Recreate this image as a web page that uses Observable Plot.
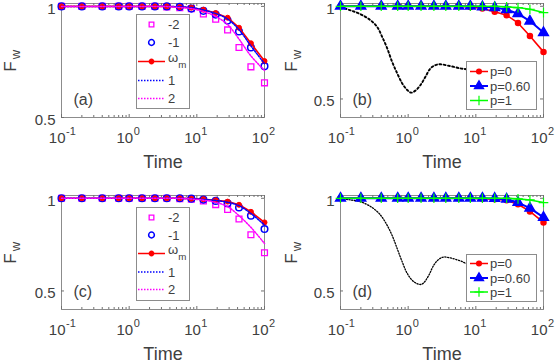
<!DOCTYPE html>
<html><head><meta charset="utf-8">
<script src="https://cdn.jsdelivr.net/npm/d3@7"></script>
<script src="https://cdn.jsdelivr.net/npm/@observablehq/plot@0.6"></script>
<style>
body{margin:0;background:#fff;}
#fig{position:relative;width:556px;height:364px;overflow:hidden;background:#fff;}
</style></head><body><div id="fig"></div>
<script>
const FONT = '"Liberation Sans", Arial, Helvetica, sans-serif';

// ---------- shared axes data ----------
const times = [0.1,0.2,0.4,0.7,1,1.55,2.4,3.6,5.6,8.3,12.5,19,28.5,42,63,100];
const xTicks = [0.1,1,10,100];
const xTickBase = ["10","10","10","10"];
const xTickExp = ["-1","0","1","2"];
const xMinorTicks = [0.2,0.3,0.4,0.5,0.6,0.7,0.8,0.9,2,3,4,5,6,7,8,9,20,30,40,50,60,70,80,90];
const yTicks = [0.5,1];
const yTickLabels = ["0.5","1"];
const panelLabels = ["(a)","(b)","(c)","(d)"];
const xLabel = "Time";
const yLabelMain = "F";
const yLabelSub = "w";

// ---------- legend names ----------
const namesAC = ["-2","-1","ω_m","1","2"];
const namesBD = ["p=0","p=0.60","p=1"];

// ---------- panel (a) ----------
const aMinus2 = [1,1,1,1,1,1,1,0.998,0.994,0.99,0.966,0.942,0.894,0.815,0.728,0.656];
const aMinus1 = [1,1,1,1,1,1,1,1,0.998,0.99,0.98,0.963,0.936,0.887,0.815,0.731];
const aOmega  = [1,1,1,1,1,1,1,1,0.997,0.994,0.985,0.970,0.949,0.904,0.834,0.754];
const aPlus1  = [1,1,1,1,1,1,1,1,0.998,0.995,0.984,0.968,0.943,0.895,0.822,0.742];
const aPlus2  = [1,1,1,1,1,1,1,0.999,0.995,0.99,0.977,0.955,0.918,0.853,0.777,0.712];

// ---------- panel (c) ----------
const cMinus2 = [1,1,1,1,1,1,1,1,0.998,0.995,0.986,0.966,0.94,0.888,0.803,0.706];
const cMinus1 = [1,1,1,1,1,1,1,1,1,0.998,0.993,0.986,0.973,0.95,0.906,0.834];
const cOmega  = [1,1,1,1,1,1,1,1,1,0.998,0.995,0.989,0.982,0.965,0.927,0.87];
const cPlus1  = [1,1,1,1,1,1,1,1,1,0.998,0.994,0.988,0.979,0.96,0.918,0.856];
const cPlus2  = [1,1,1,1,1,1,1,1,0.999,0.996,0.99,0.978,0.955,0.906,0.843,0.756];

// ---------- panel (b) ----------
const bP0   = [1,1,1,1,1,1,1,1,1,0.996,0.988,0.97,0.952,0.91,0.84,0.754];
const bP060 = [1,1,1,1,1,1,1,1,1,1,0.997,0.993,0.982,0.96,0.92,0.858];
const bP1   = [1,1,1,1,1,1,1,1,1,1,1,1,0.997,0.993,0.984,0.966];
const bBlackT = [0.1,0.141,0.198,0.277,0.348,0.413,0.49,0.58,0.689,0.817,0.97,1.11,1.28,1.52,1.8,2.14,2.54,3.01,4.22,5.93,7.45,10];
const bBlackF = [0.995,0.978,0.957,0.925,0.889,0.835,0.773,0.70,0.638,0.584,0.548,0.534,0.545,0.575,0.62,0.665,0.683,0.687,0.677,0.665,0.66,0.655];

// ---------- panel (d) ----------
const dP0   = [1,1,1,1,1,1,1,1,1,1,0.998,0.995,0.989,0.968,0.929,0.87];
const dP060 = [1,1,1,1,1,1,1,1,1,1,1,0.999,0.995,0.977,0.947,0.897];
const dP1   = [1,1,1,1,1,1,1,1,1,1,1,1,1,0.997,0.991,0.977];
const dBlackT = [0.1,0.141,0.198,0.277,0.368,0.462,0.58,0.689,0.817,0.97,1.21,1.52,1.7,2.02,2.39,2.84,3.36,4.22,5.93,7.45,10];
const dBlackF = [0.998,0.991,0.981,0.956,0.92,0.87,0.799,0.728,0.657,0.594,0.55,0.535,0.544,0.585,0.639,0.671,0.683,0.678,0.662,0.647,0.64];

// ---------- helpers ----------
const rows = (vals, ts = times) => ts.map((t, i) => ({t, v: vals[i]}));
const C = {red:"#ff0000", blue:"#0000ff", mag:"#ff00ff", green:"#00ff00", black:"#000000"};
const AXIS = "#8c8c8c", TICK = "#707070", TXT = "#404040";
const tickRows = xTicks.map((v, i) => ({v, base: xTickBase[i], exp: xTickExp[i]}));
const yTickRows = yTicks.map((v, i) => ({v, label: yTickLabels[i]}));

function panel(o) {
  const W = 278, H = 182;
  const ph = H - o.mt - o.mb, pw = W - o.ml - o.mr;
  const svg = Plot.plot({
    width: W, height: H,
    marginTop: o.mt, marginBottom: o.mb, marginLeft: o.ml, marginRight: o.mr,
    x: {type: "log", domain: [0.1, 100], axis: null},
    y: {domain: o.yDomain, axis: null},
    marks: [
      Plot.frame({stroke: AXIS, strokeWidth: 1}),
      Plot.tickX(xTicks, {x: d => d, insetTop: ph - 3, stroke: TICK}),
      Plot.tickX(xTicks, {x: d => d, insetBottom: ph - 3, stroke: TICK}),
      Plot.tickX(xMinorTicks, {x: d => d, insetTop: ph - 2, stroke: TICK}),
      Plot.tickX(xMinorTicks, {x: d => d, insetBottom: ph - 2, stroke: TICK}),
      Plot.tickY(yTicks, {y: d => d, insetRight: pw - 3, stroke: TICK}),
      Plot.tickY(yTicks, {y: d => d, insetLeft: pw - 3, stroke: TICK}),
      Plot.text(tickRows, {x: "v", text: "base", frameAnchor: "bottom", textAnchor: "end", lineAnchor: "middle", dx: 4, dy: 21, fontSize: 15, fill: TXT, fontFamily: FONT}),
      Plot.text(tickRows, {x: "v", text: "exp", frameAnchor: "bottom", textAnchor: "start", lineAnchor: "middle", dx: 4.5, dy: 14, fontSize: 11, fill: TXT, fontFamily: FONT}),
      Plot.text(yTickRows, {y: "v", text: "label", frameAnchor: "left", textAnchor: "end", lineAnchor: "middle", dx: -6, dy: 2.5, fontSize: 15, fill: TXT, fontFamily: FONT}),
      Plot.text([xLabel], {frameAnchor: "bottom", lineAnchor: "middle", dy: 45, fontSize: 18, fill: TXT, fontFamily: FONT}),
      Plot.text([yLabelMain], {frameAnchor: "left", rotate: -90, textAnchor: "middle", lineAnchor: "middle", dx: o.yLabDx, dy: 6, fontSize: 17, fill: TXT, fontFamily: FONT}),
      Plot.text([yLabelSub], {frameAnchor: "left", rotate: -90, textAnchor: "middle", lineAnchor: "middle", dx: o.yLabDx + 5, dy: -6, fontSize: 13, fill: TXT, fontFamily: FONT}),
      Plot.text([o.label], {frameAnchor: "top-left", textAnchor: "start", lineAnchor: "middle", dx: 12, dy: 96, fontSize: 16, fill: TXT, fontFamily: FONT}),
      ...o.marks
    ]
  });
  svg.style.position = "absolute";
  svg.style.left = o.left + "px";
  svg.style.top = o.top + "px";
  svg.style.background = "transparent";
  svg.style.fontFamily = FONT;
  svg.style.overflow = "visible";
  return svg;
}

function legend(svg, o) {
  const g = d3.select(svg).append("g").attr("transform", `translate(${o.x},${o.y})`);
  g.append("rect").attr("x", 0.5).attr("y", 0.5).attr("width", o.w).attr("height", o.h)
    .attr("fill", "#fff").attr("stroke", AXIS);
  o.names.forEach((name, i) => {
    const st = o.styles[i], yy = o.offsets[i] + 0.5;
    if (st.line) {
      g.append("line").attr("x1", o.lx1).attr("x2", o.lx2).attr("y1", yy).attr("y2", yy)
        .attr("stroke", st.color).attr("stroke-width", st.lw || 1.5)
        .attr("stroke-dasharray", st.line === "dotted" ? "1.5,1.5" : null);
    }
    if (st.symbol) {
      const sym = {circle: d3.symbolCircle, square: d3.symbolSquare, triangle: d3.symbolTriangle, plus: d3.symbolPlus}[st.symbol];
      g.append("path").attr("d", d3.symbol(sym, st.size)())
        .attr("transform", `translate(${o.mx},${yy})`)
        .attr("fill", st.fill ? st.color : "none").attr("stroke", st.color).attr("stroke-width", st.sw || 1.3);
    }
    const t = g.append("text").attr("x", o.tx).attr("y", yy).attr("dy", "0.35em")
      .attr("text-anchor", "start")
      .attr("font-size", o.fs).attr("fill", TXT).attr("font-family", FONT);
    const parts = name.split("_");
    if (parts.length > 1) {
      t.append("tspan").text(parts[0]).attr("dy", "0.05em");
      t.append("tspan").text(parts[1]).attr("font-size", o.fs * 0.75).attr("dy", "0.55em");
    } else t.text(name);
  });
}

const fig = document.getElementById("fig");
const P = {x: "t", y: "v"};
const dotted = "1.5,1.5";

function marksAC(m2, m1, om, p1, p2) {
  return [
    Plot.dot(rows(m2), {...P, symbol: "square", r: 3.3, stroke: C.mag, strokeWidth: 1.3, fill: "none"}),
    Plot.dot(rows(m1), {...P, symbol: "circle", r: 3.3, stroke: C.blue, strokeWidth: 1.5, fill: "none"}),
    Plot.line(rows(om), {...P, stroke: C.red, strokeWidth: 1.6}),
    Plot.dot(rows(om), {...P, r: 2.5, fill: C.red, stroke: C.red, strokeWidth: 1}),
    Plot.line(rows(p1), {...P, stroke: C.blue, strokeWidth: 1.5, strokeDasharray: dotted, curve: "catmull-rom"}),
    Plot.line(rows(p2), {...P, stroke: C.mag, strokeWidth: 1.5, strokeDasharray: dotted, curve: "catmull-rom"})
  ];
}
function marksBD(bt, bf, bw, bdash, p0, p06, p1) {
  return [
    Plot.line(rows(bf, bt), {...P, stroke: C.black, strokeWidth: bw, strokeDasharray: bdash, curve: "catmull-rom"}),
    Plot.line(rows(p0), {...P, stroke: C.red, strokeWidth: 1.6}),
    Plot.dot(rows(p0), {...P, r: 2.5, fill: C.red, stroke: C.red}),
    Plot.line(rows(p06), {...P, stroke: C.blue, strokeWidth: 2}),
    Plot.dot(rows(p06), {...P, symbol: "triangle", r: 3.6, fill: C.blue, stroke: C.blue}),
    Plot.line(rows(p1), {...P, stroke: C.green, strokeWidth: 1.6}),
    Plot.dot(rows(p1), {...P, symbol: "plus", r: 3.2, stroke: C.green, strokeWidth: 1.2})
  ];
}

const stylesAC = [
  {symbol: "square", size: 22, color: C.mag},
  {symbol: "circle", size: 26, color: C.blue, sw: 1.5},
  {line: "solid", symbol: "circle", size: 16, fill: true, color: C.red},
  {line: "dotted", color: C.blue},
  {line: "dotted", color: C.mag}
];
const stylesBD = [
  {line: "solid", symbol: "circle", size: 18, fill: true, color: C.red},
  {line: "solid", lw: 2, symbol: "triangle", size: 36, fill: true, color: C.blue},
  {line: "solid", symbol: "plus", size: 30, color: C.green, sw: 1.2}
];

// (a)
const sa = panel({left: 0, top: 0, mt: 3, mb: 65, ml: 61, mr: 14, yDomain: [0.5, 1.013], yLabDx: -51, label: panelLabels[0],
  marks: marksAC(aMinus2, aMinus1, aOmega, aPlus1, aPlus2)});
legend(sa, {x: 136, y: 14, w: 53, h: 94, names: namesAC, styles: stylesAC, offsets: [10, 28, 47, 66, 84], lx1: 2, lx2: 29, mx: 15.5, tx: 32, fs: 13});
fig.appendChild(sa);

// (b)
const sb = panel({left: 278, top: 0, mt: 3, mb: 65, ml: 62, mr: 13, yDomain: [0.4, 1.015], yLabDx: -49, label: panelLabels[1],
  marks: marksBD(bBlackT, bBlackF, 1.9, "1.9,2.4", bP0, bP060, bP1)});
legend(sb, {x: 188, y: 61, w: 70, h: 48, names: namesBD, styles: stylesBD, offsets: [10, 24.5, 39], lx1: 4, lx2: 22, mx: 13, tx: 24, fs: 13});
fig.appendChild(sb);

// (c)
const sc = panel({left: 0, top: 182, mt: 13, mb: 55, ml: 61, mr: 14, yDomain: [0.4, 1.015], yLabDx: -51, label: panelLabels[2],
  marks: marksAC(cMinus2, cMinus1, cOmega, cPlus1, cPlus2)});
legend(sc, {x: 136, y: 25, w: 53, h: 93, names: namesAC, styles: stylesAC, offsets: [10, 27.5, 46, 64.5, 82], lx1: 2, lx2: 29, mx: 15.5, tx: 32, fs: 13});
fig.appendChild(sc);

// (d)
const sd = panel({left: 278, top: 182, mt: 13, mb: 55, ml: 62, mr: 13, yDomain: [0.4, 1.015], yLabDx: -49, label: panelLabels[3],
  marks: marksBD(dBlackT, dBlackF, 1.3, "1.2,1.6", dP0, dP060, dP1)});
legend(sd, {x: 188, y: 72, w: 70, h: 47, names: namesBD, styles: stylesBD, offsets: [9, 23.5, 37.5], lx1: 4, lx2: 22, mx: 13, tx: 24, fs: 13});
fig.appendChild(sd);
</script>
</body></html>
